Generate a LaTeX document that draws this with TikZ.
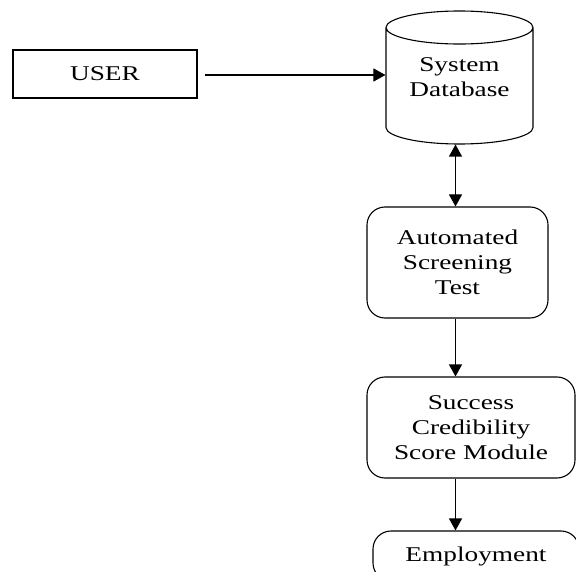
\documentclass[tikz,border=0pt]{standalone}
\usepackage{fontspec}
\setmainfont{Liberation Serif}[FakeStretch=1.3]
\usepackage{tikz}
\usetikzlibrary{shapes.geometric,arrows.meta}

\begin{document}
\begin{tikzpicture}[x=1pt,y=-1pt]
			\tikzstyle{txt} = [font=\fontsize{21}{25}\selectfont, align=center, inner sep=0pt]
			\tikzstyle{box} = [txt, draw, line width=1.1pt]
			\tikzstyle{rbox} = [box, rounded corners=18pt]
			\tikzstyle{dbase} = [box, shape=cylinder, shape border rotate=90, aspect=0.33, anchor=shape center]
			\tikzset{edge/.style = {line width=1.1pt, -{Triangle[length=12pt,width=13pt]}}}
			
			\useasboundingbox (0,0) rectangle (576,572);
			\clip (0,0) rectangle (576,572);
			
			\node[box, minimum width=184pt, minimum height=48pt](user) at (105,74) {USER};
			\node[dbase, minimum width=147pt, minimum height=133pt](db) at (459.5,77.5) {\phantom{Database}};
			\node[txt](dbtext) at (459.5,77) {System\\Database};
			\node[rbox, minimum width=181pt, minimum height=111pt](screen) at (457.5,262.5) {Automated\\Screening\\Test};
			\node[rbox, minimum width=208pt, minimum height=101pt](score) at (471,427.5) {Success\\Credibility\\Score Module};
			\node[rbox, minimum width=206pt, minimum height=50pt](job) at (476,556) {Employment};
			
			\coordinate (axis) at (455.5,0);
			\draw[edge, shorten <=7pt](user.east |- 0,75) to (db.west |- 0,75);
			\draw[edge, {Triangle[length=12pt,width=13pt]}-{Triangle[length=12pt,width=13pt]}](db.south -| axis) to (screen.north -| axis);
			\draw[edge](screen.south -| axis) to (score.north -| axis);
			\draw[edge](score.south -| axis) to (job.north -| axis);
			
\end{tikzpicture}
\end{document}
